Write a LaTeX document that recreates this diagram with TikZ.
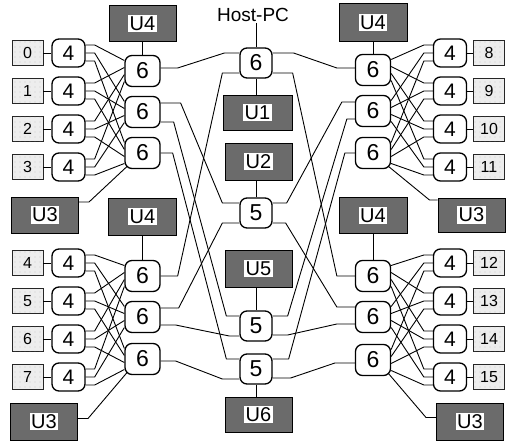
\documentclass[tikz,border=0pt]{standalone}
\usepackage{fontspec}
\setmainfont{Liberation Sans}
\usetikzlibrary{calc,patterns.meta}

\tikzset{
  wire/.style={line width=0.9pt, line join=round},
  sw4/.style={draw, line width=1.3pt, fill=white, rounded corners=7pt,
    minimum width=33pt, minimum height=28pt, inner sep=0pt,
    font=\fontsize{21}{21}\selectfont},
  sw6/.style={sw4, minimum width=35pt, minimum height=31pt,
    font=\fontsize{23}{23}\selectfont},
  swc/.style={sw4, minimum width=32pt, minimum height=30pt,
    font=\fontsize{23}{23}\selectfont},
  pe/.style={draw=black!85, line width=0.8pt, fill=black!7,
    minimum width=31pt, minimum height=25pt, inner sep=0pt,
    font=\fontsize{16}{16}\selectfont,
    postaction={pattern={Dots[distance=5pt,radius=0.45pt]}, pattern color=black!45}},
  unit/.style={draw=black, line width=1pt, fill=black!58,
    minimum width=67pt, minimum height=36pt, inner sep=0pt,
    font=\fontsize{20}{20}\selectfont},
}
\newcommand{\ulabel}[1]{{\setlength{\fboxsep}{1.6pt}\colorbox{white}{#1}}}

\begin{document}
\begin{tikzpicture}[x=1pt,y=-1pt]
\useasboundingbox (0,0) rectangle (508,442);
\fill[white] (0,0) rectangle (508,442);

% processing elements and their 4-port switches
\foreach \k/\y in {0/53,1/91,2/129,3/167,4/263,5/301,6/339,7/377} {
  \node[pe] (p\k) at (27.5,\y) {\k};
  \node[sw4] (a\k) at (68.5,\y) {4};
  \draw[wire] (p\k) -- (a\k);
}
\foreach \k/\y in {8/53,9/91,10/129,11/167,12/263,13/301,14/339,15/377} {
  \node[pe] (p\k) at (489,\y) {\k};
  \node[sw4] (a\k) at (450,\y) {4};
  \draw[wire] (a\k) -- (p\k);
}

% 6-port switches of the four groups
\foreach \k/\y in {0/71,1/112,2/153,3/276,4/317,5/359}
  \node[sw6] (s\k) at (142.5,\y) {6};
\foreach \k/\y in {6/70,7/111,8/153,9/276,10/317,11/360}
  \node[sw6] (s\k) at (373,\y) {6};

% central switches
\node[swc] (c6) at (256,63) {6};
\node[swc] (c5a) at (256,213) {5};
\node[swc] (c5b) at (256,326) {5};
\node[swc] (c5c) at (256,369) {5};

% units
\node[unit] (u4a) at (142.5,23.5) {\ulabel{U4}};
\node[unit] (u3a) at (45,215) {\ulabel{U3}};
\node[unit, minimum width=68pt, minimum height=37pt] (u4b) at (142.5,216.5) {\ulabel{U4}};
\node[unit, minimum height=37pt] (u3b) at (44,421.5) {\ulabel{U3}};
\node[unit, minimum width=68pt, minimum height=38pt] (u4c) at (373,22.5) {\ulabel{U4}};
\node[unit, minimum height=34pt] (u3c) at (471.5,215) {\ulabel{U3}};
\node[unit, minimum width=68pt, minimum height=36pt] (u4d) at (373,215.5) {\ulabel{U4}};
\node[unit, minimum height=37pt] (u3d) at (470,421.5) {\ulabel{U3}};
\node[unit, minimum width=69pt, minimum height=35pt] (u1) at (257.5,112.5) {\ulabel{U1}};
\node[unit, minimum height=37pt] (u2) at (258.5,161.5) {\ulabel{U2}};
\node[unit, minimum height=37pt] (u5) at (258.5,268.5) {\ulabel{U5}};
\node[unit, minimum height=35pt] (u6) at (258.5,414.5) {\ulabel{U6}};

\node[font=\fontsize{19}{19}\selectfont, inner sep=1pt] (host) at (253,15) {Host-PC};

% crossbars between 4-port and 6-port switches, left side
\foreach \g/\sb in {0/0,4/3}
  \foreach \i in {0,...,3}
    \foreach \j in {0,1,2} {
      \pgfmathtruncatemacro\ai{\g+\i}
      \pgfmathtruncatemacro\sj{\sb+\j}
      \draw[wire] ($(a\ai.east)+(0,{(\j-1)*8})$) -- ++(9,0)
        -- ($(s\sj.west)+(0,{(\i-1.5)*7})$);
    }
% crossbars, right side
\foreach \g/\sb in {8/6,12/9}
  \foreach \i in {0,...,3}
    \foreach \j in {0,1,2} {
      \pgfmathtruncatemacro\ai{\g+\i}
      \pgfmathtruncatemacro\sj{\sb+\j}
      \draw[wire] ($(s\sj.east)+(0,{(\i-1.5)*7})$)
        -- ($(a\ai.west)+(-9,{(\j-1)*8})$) -- ++(9,0);
    }

% host and unit attachments
\draw[wire] (host.south -| c6.north) -- (c6.north);
\draw[wire] (c6.south) -- (c6.south |- u1.north);
\draw[wire] (c5a.north) -- (c5a.north |- u2.south);
\draw[wire] (c5b.north) -- (c5b.north |- u5.south);
\draw[wire] (c5c.south) -- (c5c.south |- u6.north);
\draw[wire] (u4a.south) -- (u4a.south |- s0.north);
\draw[wire] (u4b.south) -- (u4b.south |- s3.north);
\draw[wire] (u4c.south) -- (u4c.south |- s6.north);
\draw[wire] (u4d.south) -- (u4d.south |- s9.north);
\draw[wire] ($(u3a.east)+(0,-13)$) -- ++(10,0) -- ($(s2.south west)+(3,-3)$);
\draw[wire] ($(u3b.east)+(0,-3)$) -- ++(10,0) -- ($(s5.south west)+(3,-3)$);
\draw[wire] ($(s8.south east)+(-3,-3)$) -- ($(u3c.west)+(-8,-15)$) -- ++(8,0);
\draw[wire] ($(s11.south east)+(-3,-3)$) -- ($(u3d.west)+(-10,-4)$) -- ++(10,0);

% long links, left groups to the central switches
\draw[wire] ($(s0.east)+(0,-3)$) -- ++(17,0) -- ($(c6.west)+(-15,-10)$) -- ++(15,0);
\draw[wire] ($(c6.west)+(0,10)$) -- ++(-17,0) -- ($(s3.east)+(17,0)$) -- ++(-17,0);
\draw[wire] ($(s1.east)+(0,-9)$) -- ++(20,0) -- ($(c5a.west)+(-17,-10)$) -- ++(17,0);
\draw[wire] ($(s1.east)+(0,10)$) -- ++(13,0) -- ($(c5b.west)+(-13,-10)$) -- ++(13,0);
\draw[wire] (s2.east) -- ++(12,0) -- ($(c5c.west)+(-13,-10)$) -- ++(13,0);
\draw[wire] ($(c5a.west)+(0,10)$) -- ++(-17,0) -- ($(s4.east)+(18,-9)$) -- ++(-18,0);
\draw[wire] ($(s4.east)+(0,8)$) -- ++(15,0) -- ($(c5b.west)+(-10,10)$) -- ++(10,0);
\draw[wire] ($(s5.east)+(0,2)$) -- ++(15,0) -- ($(c5c.west)+(-17,10)$) -- ++(17,0);

% long links, right groups to the central switches
\draw[wire] ($(c6.east)+(0,-10)$) -- ++(21,0) -- ($(s6.west)+(-18,-2)$) -- ++(18,0);
\draw[wire] ($(c6.east)+(0,10)$) -- ++(20,0) -- ($(s9.west)+(-18,0)$) -- ++(18,0);
\draw[wire] ($(s7.west)+(0,-9)$) -- ++(-13,0) -- ($(c5a.east)+(14,-10)$) -- ++(-14,0);
\draw[wire] ($(s7.west)+(0,8)$) -- ++(-8,0) -- ($(c5b.east)+(15,-10)$) -- ++(-15,0);
\draw[wire] (s8.west) -- ++(-10,0) -- ($(c5c.east)+(16,-10)$) -- ++(-16,0);
\draw[wire] ($(c5a.east)+(0,10)$) -- ++(13,0) -- ($(s10.west)+(-18,-10)$) -- ++(18,0);
\draw[wire] ($(c5b.east)+(0,9)$) -- ++(15,0) -- ($(s10.west)+(-18,7)$) -- ++(18,0);
\draw[wire] ($(c5c.east)+(0,9)$) -- ++(18,0) -- ($(s11.west)+(-20,3)$) -- ++(20,0);
\end{tikzpicture}
\end{document}
